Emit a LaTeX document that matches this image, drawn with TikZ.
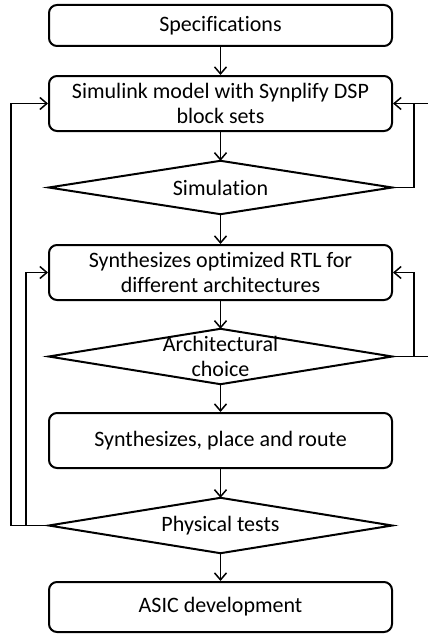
\documentclass[tikz,border=0pt]{standalone}
\usepackage{fontspec}
\setmainfont[Ligatures=NoCommon]{Carlito}
\usetikzlibrary{arrows.meta}
\begin{document}
\begin{tikzpicture}[x=1pt,y=-1pt,
  txt/.style={font=\fontsize{22}{25}\selectfont, align=center, inner sep=0pt},
  box/.style={txt, draw, line width=2pt, rounded corners=8pt, minimum width=343pt},
  dia/.style={txt, minimum width=343pt},
  link/.style={line width=1.5pt, -{Straight Barb[length=7pt,width=12pt]}},
  wire/.style={line width=1.5pt},
  dline/.style={line width=2pt, line join=miter}]
\useasboundingbox (0,0) rectangle (428,634);
\node[box, minimum height=41pt] (spec) at (220.5,25.5) {Specifications};
\node[box, minimum height=55pt] (simu) at (220.5,103.5) {Simulink model with Synplify DSP\\block sets};
\node[dia, minimum height=53pt] (sim) at (220.5,187.5) {Simulation};
\draw[dline] (sim.west) -- (sim.north) -- (sim.east) -- (sim.south) -- cycle;
\node[box, minimum height=55pt] (rtl) at (220.5,272.5) {Synthesizes optimized RTL for\\different architectures};
\node[dia, minimum height=55pt] (arch) at (220.5,356.5) {Architectural\\choice};
\draw[dline] (arch.west) -- (arch.north) -- (arch.east) -- (arch.south) -- cycle;
\node[box, minimum height=55pt] (spr) at (220.5,440.5) {Synthesizes, place and route};
\node[dia, minimum height=55pt] (phys) at (220.5,525.5) {Physical tests};
\draw[dline] (phys.west) -- (phys.north) -- (phys.east) -- (phys.south) -- cycle;
\node[box, minimum height=50pt] (asic) at (220.5,607) {ASIC development};
% main flow
\draw[link] (spec.south) -- (simu.north);
\draw[link] (simu.south) -- (sim.north);
\draw[link] (sim.south) -- (rtl.north);
\draw[link] (rtl.south) -- (arch.north);
\draw[link] (arch.south) -- (spr.north);
\draw[link] (spr.south) -- (phys.north);
\draw[link] (phys.south) -- (asic.north);
% right loops
\draw[link] (sim.east) -- ++(22,0) |- (simu.east);
\draw[wire] ([xshift=22pt]simu.east) -- ++(16,0);
\draw[link] (arch.east) -- ++(22,0) |- (rtl.east);
\draw[wire] (arch.east) -- ++(38,0);
% left loops
\draw[link] (phys.west) -- ++(-38,0) |- (simu.west);
\draw[link] (phys.west) -- ++(-23,0) |- (rtl.west);
\end{tikzpicture}
\end{document}
